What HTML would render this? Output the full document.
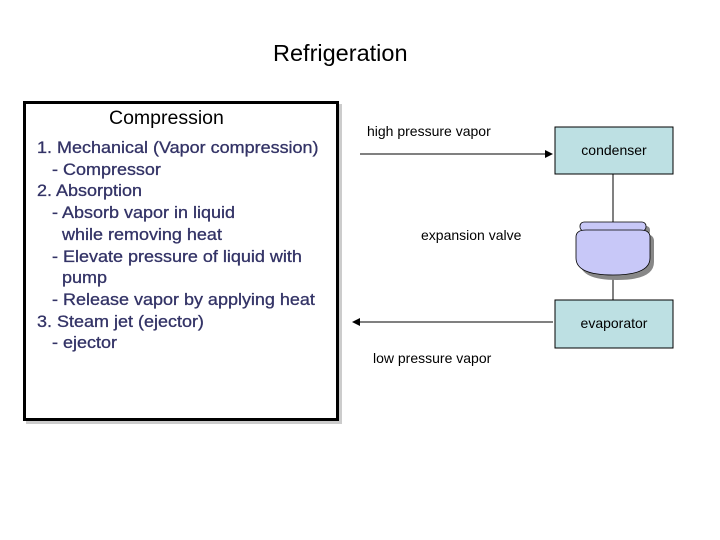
<!DOCTYPE html>
<html><head><style>
body{margin:0;width:720px;height:540px;background:#fff;position:relative;font-family:"Liberation Sans",sans-serif;overflow:hidden}
.t{position:absolute;white-space:nowrap}
.l{position:absolute;left:37px;font-size:16.5px;color:#333366;line-height:21.7px;white-space:nowrap;transform:scaleX(1.09);transform-origin:0 0;-webkit-text-stroke:0.3px #333366}
</style></head><body>
<div class="t" style="left:273px;top:40px;font-size:23.5px">Refrigeration</div>
<div style="position:absolute;left:23px;top:101px;width:310px;height:314px;border:3px solid #000;box-shadow:3px 3px 0 #ccc"></div>
<div class="t" style="left:109px;top:107px;font-size:19.5px">Compression</div>
<div class="l" style="top:138px">1. Mechanical (Vapor compression)<br>&nbsp;&nbsp;&nbsp;- Compressor<br>2. Absorption<br>&nbsp;&nbsp;&nbsp;- Absorb vapor in liquid<br>&nbsp;&nbsp;&nbsp;&nbsp;&nbsp;while removing heat<br>&nbsp;&nbsp;&nbsp;- Elevate pressure of liquid with<br>&nbsp;&nbsp;&nbsp;&nbsp;&nbsp;pump<br>&nbsp;&nbsp;&nbsp;- Release vapor by applying heat<br>3. Steam jet (ejector)<br>&nbsp;&nbsp;&nbsp;- ejector</div>
<div class="t" style="left:367px;top:123px;font-size:14px">high pressure vapor</div>
<div class="t" style="left:421px;top:227px;font-size:14px">expansion valve</div>
<div class="t" style="left:373px;top:350px;font-size:14px">low pressure vapor</div>
<svg width="720" height="540" style="position:absolute;left:0;top:0">
<line x1="360" y1="154" x2="548" y2="154" stroke="#000"/>
<polygon points="553,154 545,150 545,158" fill="#000"/>
<line x1="358" y1="322" x2="553" y2="322" stroke="#000"/>
<polygon points="352,322 360,318 360,326" fill="#000"/>
<line x1="613" y1="174" x2="613" y2="300" stroke="#000"/>
<rect x="555" y="127" width="118" height="47" fill="#bde0e3" stroke="#000"/>
<rect x="555" y="300" width="118" height="48" fill="#bde0e3" stroke="#000"/>
<text x="614" y="155" font-size="14" text-anchor="middle" font-family="Liberation Sans">condenser</text>
<text x="614" y="328" font-size="14" text-anchor="middle" font-family="Liberation Sans">evaporator</text>
<rect x="584" y="226" width="66" height="9" rx="4" fill="#888"/>
<path d="M580,241 Q580,234 590,234 L644,234 Q654,234 654,241 L654,262 Q654,280 617,280 Q580,280 580,262Z" fill="#888"/>
<rect x="604" y="228" width="19" height="9" fill="#c8c8f8" stroke="#000" stroke-width="0.8"/>
<rect x="580" y="222" width="66" height="9" rx="4" fill="#c8c8f8" stroke="#000" stroke-width="0.8"/>
<path d="M576,237 Q576,230 586,230 L640,230 Q650,230 650,237 L650,258 Q650,275 613,275 Q576,275 576,258Z" fill="#c8c8f8" stroke="#000" stroke-width="0.8"/>
</svg>
</body></html>
